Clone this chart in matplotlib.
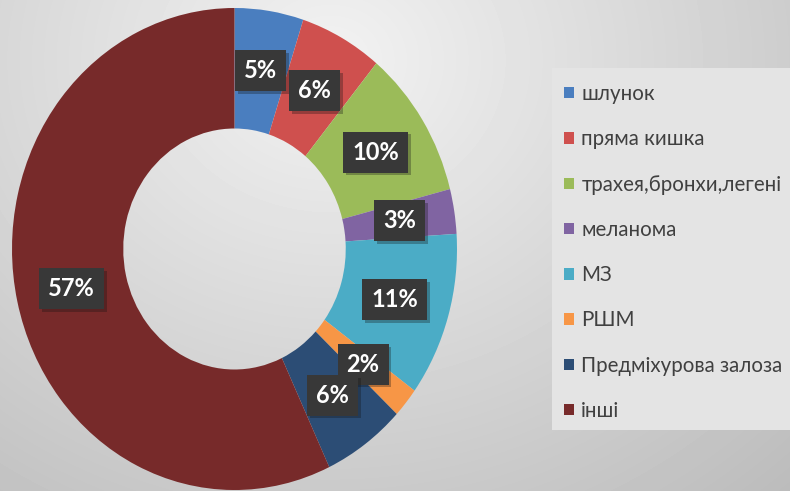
import numpy as np
import matplotlib
matplotlib.use("Agg")
import matplotlib.pyplot as plt
import matplotlib.patheffects as pe
from matplotlib.patches import Rectangle

categories = ["шлунок", "пряма кишка", "трахея,бронхи,легені", "меланома",
              "МЗ", "РШМ", "Предміхурова залоза", "інші"]
values = [5, 6, 10, 3, 11, 2, 6, 57]
pct_labels = ["5%", "6%", "10%", "3%", "11%", "2%", "6%", "57%"]
colors = ["#4a7ebf", "#cf504e", "#9bbb59", "#8064a2",
          "#4bacc6", "#f79646", "#2c4d75", "#772a2a"]

W, H = 790, 491
fig = plt.figure(figsize=(W / 100, H / 100), dpi=100)

# background gradient
bg = fig.add_axes([0, 0, 1, 1], zorder=0)
yy, xx = np.mgrid[0:H, 0:W]
d = np.sqrt(((xx - 330) / 600.0) ** 2 + ((yy - 60) / 520.0) ** 2)
val = 0.95 - 0.19 * np.clip(d, 0, 1.2)
bg.imshow(val, cmap="gray", vmin=0, vmax=1, extent=[0, W, H, 0], aspect="auto")
bg.set_xlim(0, W)
bg.set_ylim(H, 0)
bg.axis("off")
# legend background
bg.add_patch(Rectangle((552, 68), 240, 362, facecolor="#e4e4e4", edgecolor="none"))

# pie
cx, cy = 234.5, 249.0
rx, ry = 222.5, 241.0
ax = fig.add_axes([0, 0, 1, 1], zorder=1)
ax.patch.set_alpha(0)
wedges, _ = ax.pie(values, colors=colors, startangle=90, counterclock=False,
                   radius=1.0, wedgeprops=dict(width=0.5, edgecolor="none"))
ax.set_aspect("auto")
ax.set_xlim(-cx / rx, (W - cx) / rx)
ax.set_ylim(-(H - cy) / ry, cy / ry)
ax.axis("off")

total = sum(values)
cum = 0
for w, lab, v in zip(wedges, pct_labels, values):
    mid = np.deg2rad(90 - (cum + v / 2) / total * 360)
    cum += v
    x, y = 0.75 * np.cos(mid), 0.75 * np.sin(mid)
    t = ax.text(x, y, lab, ha="center", va="center", fontsize=17,
                fontweight="bold", family="Lato", color="white",
                bbox=dict(boxstyle="square,pad=0.38", facecolor="#383838",
                          edgecolor="none"))
    t.get_bbox_patch().set_path_effects(
        [pe.SimplePatchShadow(offset=(2, -2), alpha=0.3), pe.Normal()])

leg = fig.legend(wedges, categories, loc="upper left",
                 bbox_to_anchor=(564 / W, 1 - 84 / H), frameon=False,
                 prop=dict(family="Lato", size=14.8), labelcolor="#404040",
                 handlelength=0.48, handleheight=0.48, handletextpad=0.36,
                 labelspacing=1.23, borderaxespad=0, borderpad=0)

fig.savefig("out.png", dpi=100)
